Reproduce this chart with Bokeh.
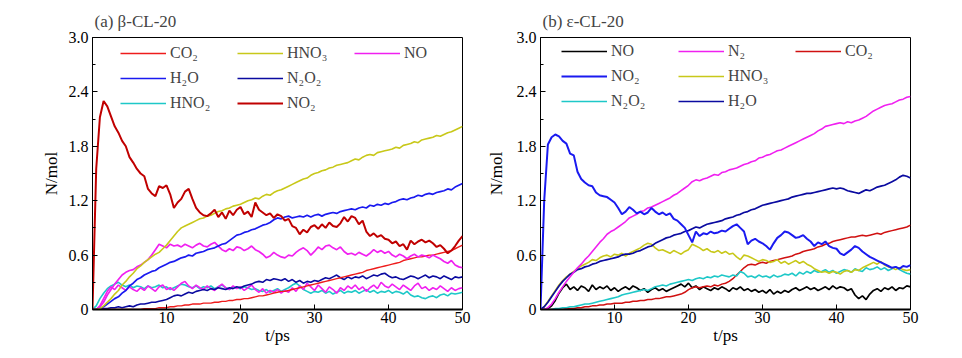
from bokeh.plotting import figure
from bokeh.models import Legend, LegendItem, FixedTicker
from bokeh.layouts import row
from bokeh.embed import file_html
from bokeh.resources import INLINE

# ---------------- data ----------------
T = [0.0, 0.5, 1.0, 1.5, 2.0, 2.5, 3.0, 3.5, 4.0, 4.5,
     5.0, 5.5, 6.0, 6.5, 7.0, 7.5, 8.0, 8.5, 9.0, 9.5,
     10.0, 10.5, 11.0, 11.5, 12.0, 12.5, 13.0, 13.5, 14.0, 14.5,
     15.0, 15.5, 16.0, 16.5, 17.0, 17.5, 18.0, 18.5, 19.0, 19.5,
     20.0, 20.5, 21.0, 21.5, 22.0, 22.5, 23.0, 23.5, 24.0, 24.5,
     25.0, 25.5, 26.0, 26.5, 27.0, 27.5, 28.0, 28.5, 29.0, 29.5,
     30.0, 30.5, 31.0, 31.5, 32.0, 32.5, 33.0, 33.5, 34.0, 34.5,
     35.0, 35.5, 36.0, 36.5, 37.0, 37.5, 38.0, 38.5, 39.0, 39.5,
     40.0, 40.5, 41.0, 41.5, 42.0, 42.5, 43.0, 43.5, 44.0, 44.5,
     45.0, 45.5, 46.0, 46.5, 47.0, 47.5, 48.0, 48.5, 49.0, 49.5,
     50.0]

# (a) beta-CL-20
A_NO2 = [0, 1.55, 2.12, 2.30, 2.24, 2.13, 2.02, 1.95, 1.86, 1.80,
         1.68, 1.62, 1.55, 1.50, 1.47, 1.33, 1.28, 1.25, 1.36, 1.34,
         1.37, 1.27, 1.12, 1.18, 1.22, 1.30, 1.33, 1.22, 1.12, 1.07,
         1.04, 1.03, 1.06, 1.10, 1.02, 1.07, 1.00, 1.09, 1.04, 1.10,
         1.13, 1.05, 1.08, 1.02, 1.18, 1.10, 1.07, 1.04, 1.06, 1.01,
         1.05, 1.03, 0.98, 1.00, 0.92, 0.90, 0.83, 0.88, 0.85, 0.91,
         0.93, 0.89, 0.94, 0.90, 0.96, 0.92, 0.91, 0.95, 1.02, 0.97,
         1.03, 1.01, 0.94, 0.98, 0.86, 0.81, 0.84, 0.80, 0.82, 0.78,
         0.77, 0.73, 0.75, 0.70, 0.72, 0.66, 0.76, 0.72, 0.75, 0.77,
         0.74, 0.76, 0.73, 0.69, 0.71, 0.67, 0.62, 0.65, 0.70, 0.76,
         0.81]
A_HNO3 = [0, 0, 0.01, 0.04, 0.08, 0.12, 0.17, 0.21, 0.27, 0.31,
          0.36, 0.40, 0.45, 0.48, 0.52, 0.55, 0.58, 0.61, 0.63, 0.67,
          0.71, 0.76, 0.81, 0.86, 0.90, 0.92, 0.94, 0.96, 0.98, 1.00,
          1.01, 1.03, 1.04, 1.06, 1.08, 1.09, 1.11, 1.12, 1.14, 1.15,
          1.16, 1.18, 1.20, 1.21, 1.23, 1.22, 1.25, 1.27, 1.26, 1.29,
          1.31, 1.32, 1.34, 1.36, 1.38, 1.40, 1.42, 1.44, 1.45, 1.48,
          1.50, 1.51, 1.53, 1.54, 1.56, 1.57, 1.59, 1.60, 1.61, 1.62,
          1.64, 1.66, 1.65, 1.68, 1.70, 1.71, 1.70, 1.73, 1.74, 1.75,
          1.76, 1.77, 1.79, 1.78, 1.81, 1.82, 1.83, 1.85, 1.84, 1.87,
          1.88, 1.89, 1.90, 1.92, 1.91, 1.93, 1.95, 1.96, 1.98, 2.00,
          2.02]
A_H2O = [0, 0, 0.01, 0.03, 0.06, 0.09, 0.12, 0.14, 0.18, 0.21,
         0.26, 0.29, 0.33, 0.35, 0.38, 0.40, 0.42, 0.43, 0.46, 0.48,
         0.50, 0.52, 0.53, 0.55, 0.57, 0.58, 0.60, 0.59, 0.62, 0.63,
         0.64, 0.66, 0.67, 0.68, 0.70, 0.72, 0.73, 0.76, 0.79, 0.82,
         0.83, 0.85, 0.86, 0.88, 0.89, 0.91, 0.93, 0.94, 0.96, 0.99,
         1.01, 1.00, 1.02, 1.03, 1.01, 1.02, 1.03, 1.02, 1.04, 1.02,
         1.04, 1.05, 1.03, 1.05, 1.06, 1.07, 1.06, 1.08, 1.09, 1.10,
         1.11, 1.10, 1.12, 1.13, 1.12, 1.15, 1.14, 1.16, 1.15, 1.17,
         1.16, 1.18, 1.19, 1.21, 1.22, 1.21, 1.23, 1.24, 1.26, 1.25,
         1.27, 1.28, 1.27, 1.29, 1.30, 1.31, 1.33, 1.32, 1.35, 1.37,
         1.39]
A_NO = [0, 0, 0.03, 0.08, 0.16, 0.22, 0.28, 0.33, 0.38, 0.41,
        0.43, 0.44, 0.47, 0.49, 0.52, 0.55, 0.60, 0.66, 0.72, 0.70,
        0.68, 0.72, 0.70, 0.71, 0.69, 0.72, 0.70, 0.68, 0.71, 0.73,
        0.70, 0.69, 0.72, 0.74, 0.70, 0.66, 0.64, 0.67, 0.65, 0.69,
        0.68, 0.65, 0.67, 0.70, 0.66, 0.64, 0.61, 0.57, 0.59, 0.63,
        0.60, 0.58, 0.57, 0.60, 0.59, 0.63, 0.66, 0.68, 0.65, 0.60,
        0.64, 0.69, 0.66, 0.70, 0.71, 0.68, 0.66, 0.69, 0.64, 0.61,
        0.62, 0.60, 0.63, 0.61, 0.59, 0.62, 0.66, 0.63, 0.65, 0.62,
        0.64, 0.60, 0.58, 0.61, 0.59, 0.56, 0.59, 0.61, 0.58, 0.60,
        0.59, 0.57, 0.60, 0.58, 0.56, 0.53, 0.51, 0.54, 0.49, 0.47,
        0.46]
A_N2O2 = [0, 0, 0, 0.01, 0.01, 0.02, 0.02, 0.03, 0.02, 0.03,
          0.04, 0.03, 0.05, 0.06, 0.06, 0.07, 0.08, 0.08, 0.09, 0.10,
          0.11, 0.13, 0.15, 0.16, 0.15, 0.17, 0.19, 0.18, 0.20, 0.21,
          0.22, 0.21, 0.23, 0.22, 0.24, 0.23, 0.22, 0.24, 0.23, 0.25,
          0.24, 0.26, 0.27, 0.28, 0.30, 0.31, 0.30, 0.33, 0.32, 0.34,
          0.33, 0.32, 0.34, 0.31, 0.33, 0.30, 0.32, 0.29, 0.31, 0.30,
          0.32, 0.31, 0.33, 0.35, 0.34, 0.36, 0.38, 0.35, 0.33, 0.36,
          0.34, 0.36, 0.35, 0.37, 0.34, 0.36, 0.38, 0.37, 0.39, 0.40,
          0.37, 0.35, 0.36, 0.34, 0.33, 0.35, 0.37, 0.36, 0.34, 0.36,
          0.38, 0.35, 0.37, 0.36, 0.34, 0.37, 0.35, 0.33, 0.36, 0.35,
          0.36]
A_CO2 = [0, 0, 0, 0, 0, 0, 0, 0, 0, 0,
         0, 0, 0, 0, 0.01, 0.01, 0.01, 0.01, 0.02, 0.02,
         0.02, 0.03, 0.03, 0.04, 0.04, 0.05, 0.05, 0.06, 0.06, 0.06,
         0.07, 0.07, 0.07, 0.08, 0.08, 0.09, 0.09, 0.10, 0.10, 0.11,
         0.11, 0.12, 0.12, 0.13, 0.14, 0.15, 0.15, 0.16, 0.17, 0.18,
         0.19, 0.20, 0.20, 0.21, 0.22, 0.23, 0.24, 0.25, 0.26, 0.27,
         0.28, 0.29, 0.30, 0.31, 0.32, 0.33, 0.34, 0.35, 0.36, 0.37,
         0.38, 0.39, 0.40, 0.41, 0.43, 0.44, 0.45, 0.46, 0.47, 0.48,
         0.49, 0.50, 0.51, 0.52, 0.54, 0.55, 0.56, 0.57, 0.58, 0.58,
         0.59, 0.60, 0.60, 0.61, 0.62, 0.63, 0.64, 0.65, 0.67, 0.69,
         0.71]
A_HNO2 = [0, 0.04, 0.12, 0.18, 0.23, 0.26, 0.28, 0.30, 0.27, 0.25,
          0.27, 0.24, 0.26, 0.25, 0.23, 0.26, 0.24, 0.25, 0.27, 0.24,
          0.25, 0.22, 0.24, 0.26, 0.28, 0.27, 0.25, 0.24, 0.26, 0.23,
          0.25, 0.24, 0.26, 0.23, 0.25, 0.27, 0.24, 0.22, 0.25, 0.24,
          0.23, 0.25, 0.24, 0.22, 0.23, 0.21, 0.20, 0.22, 0.19, 0.21,
          0.23, 0.20, 0.22, 0.24, 0.27, 0.29, 0.26, 0.22, 0.20, 0.18,
          0.20, 0.19, 0.21, 0.18, 0.20, 0.17, 0.19, 0.21, 0.18, 0.20,
          0.19, 0.21, 0.18, 0.20, 0.22, 0.19, 0.21, 0.18, 0.20, 0.19,
          0.21, 0.18, 0.20, 0.19, 0.17, 0.20, 0.16, 0.14, 0.15, 0.13,
          0.12, 0.14, 0.15, 0.13, 0.16, 0.17, 0.15, 0.18, 0.17, 0.18,
          0.19]
A_N2 = [0, 0, 0.04, 0.12, 0.20, 0.25, 0.22, 0.27, 0.24, 0.21,
        0.25, 0.22, 0.20, 0.24, 0.21, 0.26, 0.23, 0.20, 0.25, 0.27,
        0.22, 0.24, 0.21, 0.25, 0.29, 0.31, 0.26, 0.23, 0.27, 0.24,
        0.22, 0.26, 0.23, 0.21, 0.25, 0.28, 0.24, 0.22, 0.26, 0.23,
        0.25, 0.21, 0.24, 0.27, 0.22, 0.19, 0.23, 0.18, 0.21, 0.19,
        0.22, 0.18, 0.21, 0.19, 0.24, 0.20, 0.26, 0.22, 0.29, 0.25,
        0.21, 0.27, 0.23, 0.19, 0.25, 0.22, 0.18, 0.24, 0.21, 0.26,
        0.23, 0.27, 0.22, 0.25, 0.20, 0.24, 0.27, 0.23, 0.30, 0.26,
        0.24, 0.28, 0.25, 0.22, 0.27, 0.24, 0.21, 0.26, 0.29, 0.23,
        0.25, 0.21, 0.24, 0.22, 0.26, 0.23, 0.20, 0.24, 0.21, 0.23,
        0.24]

# (b) epsilon-CL-20
B_NO2 = [0, 1.20, 1.82, 1.90, 1.93, 1.91, 1.86, 1.83, 1.72, 1.70,
         1.52, 1.44, 1.40, 1.37, 1.36, 1.29, 1.26, 1.25, 1.24, 1.21,
         1.18, 1.12, 1.05, 1.08, 1.13, 1.10, 1.06, 1.08, 1.05, 1.07,
         1.12, 1.08, 1.05, 1.07, 1.04, 1.06, 1.00, 0.98, 0.94, 0.90,
         0.82, 0.74, 0.86, 0.81, 0.84, 0.83, 0.86, 0.84, 0.85, 0.87,
         0.86, 0.89, 0.92, 0.94, 0.90, 0.86, 0.72, 0.76, 0.78, 0.75,
         0.73, 0.70, 0.66, 0.73, 0.79, 0.82, 0.86, 0.85, 0.82, 0.79,
         0.80, 0.82, 0.78, 0.75, 0.70, 0.74, 0.72, 0.75, 0.70, 0.68,
         0.67, 0.62, 0.60, 0.63, 0.66, 0.70, 0.68, 0.64, 0.61, 0.58,
         0.56, 0.54, 0.52, 0.50, 0.48, 0.46, 0.47, 0.45, 0.48, 0.47,
         0.49]
B_N2 = [0, 0, 0.02, 0.06, 0.12, 0.19, 0.25, 0.31, 0.36, 0.41,
        0.46, 0.50, 0.55, 0.59, 0.64, 0.69, 0.74, 0.78, 0.83, 0.86,
        0.88, 0.91, 0.94, 0.97, 1.01, 1.03, 1.05, 1.08, 1.09, 1.12,
        1.13, 1.15, 1.17, 1.19, 1.21, 1.23, 1.26, 1.28, 1.31, 1.34,
        1.37, 1.41, 1.43, 1.42, 1.44, 1.45, 1.47, 1.49, 1.48, 1.51,
        1.52, 1.54, 1.55, 1.56, 1.58, 1.60, 1.61, 1.63, 1.64, 1.67,
        1.68, 1.70, 1.71, 1.73, 1.75, 1.76, 1.78, 1.80, 1.82, 1.84,
        1.86, 1.88, 1.90, 1.92, 1.94, 1.97, 1.99, 2.02, 2.03, 2.04,
        2.05, 2.06, 2.05, 2.07, 2.06, 2.08, 2.09, 2.11, 2.13, 2.16,
        2.19, 2.21, 2.23, 2.25, 2.26, 2.27, 2.29, 2.31, 2.32, 2.34,
        2.35]
B_CO2 = [0, 0, 0, 0, 0, 0, 0, 0.01, 0.01, 0.01,
         0.02, 0.02, 0.03, 0.03, 0.04, 0.04, 0.05, 0.05, 0.06, 0.06,
         0.07, 0.07, 0.07, 0.08, 0.08, 0.09, 0.09, 0.10, 0.10, 0.11,
         0.11, 0.12, 0.12, 0.13, 0.14, 0.14, 0.15, 0.16, 0.17, 0.19,
         0.22, 0.24, 0.25, 0.24, 0.25, 0.26, 0.25, 0.27, 0.26, 0.28,
         0.29, 0.31, 0.34, 0.38, 0.42, 0.46, 0.49, 0.50, 0.49, 0.51,
         0.52, 0.51, 0.53, 0.54, 0.55, 0.56, 0.57, 0.58, 0.59, 0.61,
         0.62, 0.64, 0.65, 0.66, 0.67, 0.69, 0.70, 0.72, 0.73, 0.75,
         0.76, 0.77, 0.78, 0.79, 0.80, 0.80, 0.81, 0.82, 0.81, 0.82,
         0.83, 0.84, 0.83, 0.85, 0.86, 0.87, 0.88, 0.89, 0.90, 0.91,
         0.93]
B_H2O = [0, 0.03, 0.08, 0.14, 0.20, 0.26, 0.31, 0.35, 0.39, 0.41,
         0.44, 0.45, 0.47, 0.48, 0.50, 0.51, 0.53, 0.54, 0.55, 0.56,
         0.57, 0.58, 0.60, 0.61, 0.61, 0.62, 0.64, 0.65, 0.67, 0.69,
         0.70, 0.73, 0.75, 0.77, 0.79, 0.80, 0.82, 0.83, 0.84, 0.86,
         0.87, 0.89, 0.91, 0.90, 0.92, 0.94, 0.95, 0.96, 0.97, 0.98,
         1.00, 1.01, 1.02, 1.04, 1.05, 1.07, 1.08, 1.10, 1.11, 1.13,
         1.15, 1.16, 1.17, 1.18, 1.19, 1.20, 1.21, 1.22, 1.24, 1.25,
         1.26, 1.27, 1.28, 1.28, 1.29, 1.30, 1.31, 1.32, 1.33, 1.34,
         1.33, 1.34, 1.33, 1.31, 1.30, 1.29, 1.28, 1.30, 1.32, 1.31,
         1.33, 1.35, 1.36, 1.37, 1.39, 1.41, 1.43, 1.46, 1.48, 1.47,
         1.45]
B_HNO3 = [0, 0.03, 0.09, 0.15, 0.21, 0.27, 0.32, 0.36, 0.39, 0.42,
          0.45, 0.48, 0.50, 0.52, 0.55, 0.54, 0.57, 0.59, 0.60, 0.58,
          0.61, 0.60, 0.62, 0.59, 0.62, 0.64, 0.66, 0.68, 0.71, 0.73,
          0.72, 0.68, 0.65, 0.66, 0.64, 0.62, 0.65, 0.63, 0.61, 0.64,
          0.66, 0.72, 0.70, 0.68, 0.65, 0.67, 0.64, 0.63, 0.65, 0.62,
          0.64, 0.61, 0.62, 0.58, 0.55, 0.60, 0.59, 0.57, 0.55, 0.53,
          0.55, 0.54, 0.52, 0.53, 0.55, 0.51, 0.53, 0.50, 0.52, 0.54,
          0.51, 0.53, 0.50, 0.48, 0.45, 0.43, 0.41, 0.42, 0.40, 0.42,
          0.41, 0.39, 0.42, 0.43, 0.41, 0.44, 0.43, 0.46, 0.48, 0.50,
          0.52, 0.50, 0.53, 0.49, 0.47, 0.46, 0.44, 0.46, 0.44, 0.43,
          0.44]
B_N2O2 = [0, 0, 0, 0, 0.01, 0.01, 0.02, 0.02, 0.03, 0.03,
          0.04, 0.05, 0.06, 0.06, 0.07, 0.08, 0.09, 0.10, 0.11, 0.12,
          0.13, 0.14, 0.16, 0.17, 0.18, 0.19, 0.20, 0.21, 0.22, 0.21,
          0.23, 0.25, 0.26, 0.27, 0.26, 0.28, 0.29, 0.30, 0.31, 0.32,
          0.33, 0.32, 0.34, 0.35, 0.34, 0.36, 0.35, 0.37, 0.36, 0.38,
          0.37, 0.36, 0.38, 0.37, 0.42, 0.40, 0.36, 0.37, 0.35, 0.38,
          0.36, 0.37, 0.35, 0.38, 0.36, 0.37, 0.39, 0.38, 0.40, 0.37,
          0.41, 0.39, 0.42, 0.40, 0.43, 0.41, 0.42, 0.44, 0.41, 0.43,
          0.40, 0.42, 0.44, 0.43, 0.41, 0.45, 0.43, 0.42, 0.46, 0.44,
          0.45, 0.47, 0.44, 0.46, 0.43, 0.45, 0.47, 0.44, 0.42, 0.40,
          0.39]
B_NO = [0, 0, 0.01, 0.04, 0.10, 0.18, 0.24, 0.28, 0.22, 0.25,
        0.21, 0.26, 0.24, 0.20, 0.27, 0.22, 0.25, 0.23, 0.26, 0.21,
        0.24, 0.20, 0.23, 0.25, 0.22, 0.26, 0.24, 0.21, 0.23, 0.19,
        0.22, 0.24, 0.21, 0.23, 0.20, 0.22, 0.24, 0.26, 0.28, 0.25,
        0.29, 0.24, 0.26, 0.22, 0.25, 0.23, 0.21, 0.24, 0.22, 0.25,
        0.23, 0.20, 0.24, 0.22, 0.25, 0.21, 0.23, 0.20, 0.22, 0.19,
        0.21, 0.18, 0.22, 0.17, 0.20, 0.18, 0.21, 0.19, 0.22, 0.24,
        0.21, 0.23, 0.25, 0.22, 0.24, 0.21, 0.23, 0.25, 0.22, 0.26,
        0.23, 0.25, 0.24, 0.21, 0.23, 0.16, 0.12, 0.15, 0.11, 0.17,
        0.21, 0.23, 0.20, 0.24, 0.22, 0.25, 0.21, 0.24, 0.23, 0.26,
        0.25]

X_TICKS = [10, 20, 30, 40, 50]
Y_TICKS = [0, 0.6, 1.2, 1.8, 2.4, 3.0]
Y_TICK_LABELS = ["0", "0.6", "1.2", "1.8", "2.4", "3.0"]
Y_MINOR = [0.3, 0.9, 1.5, 2.1, 2.7]
TITLE_A = "(a) \u03b2-CL-20"
TITLE_B = "(b) \u03b5-CL-20"
X_LABEL = "t/ps"
Y_LABEL = "N/mol"

# series: (label, values, color, width, in_legend) ; legend is column-major, 3 rows
SERIES_A = [
    ("HNO\u2082", A_HNO2, "#1ec8c8", 1.6, True),
    ("", A_N2, "#f020f0", 1.6, False),
    ("N\u2082O\u2082", A_N2O2, "#0a0aa0", 1.6, True),
    ("CO\u2082", A_CO2, "#ee1c1c", 1.4, True),
    ("NO", A_NO, "#f020f0", 1.7, True),
    ("H\u2082O", A_H2O, "#1a1af0", 1.7, True),
    ("HNO\u2083", A_HNO3, "#c8c81a", 1.6, True),
    ("NO\u2082", A_NO2, "#c00000", 2.0, True),
]
LEGEND_ORDER_A = ["CO\u2082", "H\u2082O", "HNO\u2082", "HNO\u2083", "N\u2082O\u2082", "NO\u2082", "NO"]

SERIES_B = [
    ("NO", B_NO, "#000000", 1.7, True),
    ("CO\u2082", B_CO2, "#d01010", 1.5, True),
    ("N\u2082O\u2082", B_N2O2, "#1ec8c8", 1.6, True),
    ("HNO\u2083", B_HNO3, "#c8c81a", 1.6, True),
    ("H\u2082O", B_H2O, "#0a0aa0", 1.7, True),
    ("N\u2082", B_N2, "#f020f0", 1.6, True),
    ("NO\u2082", B_NO2, "#1a1af0", 2.0, True),
]
LEGEND_ORDER_B = ["NO", "NO\u2082", "N\u2082O\u2082", "N\u2082", "HNO\u2083", "H\u2082O", "CO\u2082"]

FONT = "Liberation Serif"

# ---------------- layout (pixels) ----------------
FRAME_W, FRAME_H = 370, 272
FIG_H = 358
BORDER_TOP = 37


def make_panel(series, order, title, border_left, fig_w, legend_xy, ylabel_standoff):
    border_right = fig_w - border_left - FRAME_W
    p = figure(width=fig_w, height=FIG_H, x_range=(0, 50), y_range=(0, 3),
               output_backend="svg", toolbar_location=None,
               min_border_left=border_left, min_border_right=border_right,
               min_border_top=BORDER_TOP,
               min_border_bottom=FIG_H - BORDER_TOP - FRAME_H,
               x_axis_label=X_LABEL, y_axis_label=Y_LABEL)
    p.xgrid.visible = False
    p.ygrid.visible = False
    p.outline_line_color = "black"
    p.outline_line_width = 1
    p.outline_line_alpha = 1
    p.background_fill_color = "white"
    p.border_fill_color = "white"

    p.title.text = title
    p.title.text_font = FONT
    p.title.text_font_size = "17px"
    p.title.text_font_style = "normal"
    p.title.align = "left"
    p.title.offset = 2
    p.title.standoff = 14

    for ax in (p.xaxis[0], p.yaxis[0]):
        ax.major_tick_in = 5
        ax.major_tick_out = 0
        ax.minor_tick_in = 3
        ax.minor_tick_out = 0
        ax.axis_line_color = "black"
        ax.major_tick_line_color = "black"
        ax.minor_tick_line_color = "black"
        ax.major_label_text_font = FONT
        ax.major_label_text_font_size = "16px"
        ax.major_label_text_color = "black"
        ax.axis_label_text_font = FONT
        ax.axis_label_text_font_size = "17px"
        ax.axis_label_text_font_style = "normal"
        ax.axis_label_text_color = "black"
    p.xaxis[0].ticker = FixedTicker(ticks=X_TICKS)
    p.xaxis[0].axis_line_width = 2
    p.xaxis[0].major_label_standoff = 2
    p.xaxis[0].axis_label_standoff = 0
    p.yaxis[0].ticker = FixedTicker(ticks=Y_TICKS, minor_ticks=Y_MINOR)
    p.yaxis[0].major_label_overrides = {t: s for t, s in zip(Y_TICKS, Y_TICK_LABELS)}
    p.yaxis[0].major_label_standoff = 4
    p.yaxis[0].axis_label_standoff = ylabel_standoff

    renderers = {}
    for label, vals, color, w, in_leg in series:
        r = p.line(T, vals, line_color=color, line_width=w)
        if in_leg:
            renderers[label] = r

    items = [LegendItem(label=lab, renderers=[renderers[lab]]) for lab in order]
    leg = Legend(items=items, location=legend_xy, orientation="vertical", nrows=3,
                 padding=0, margin=0, spacing=5, border_line_alpha=0,
                 background_fill_alpha=0, glyph_width=46, glyph_height=20,
                 label_height=20, label_width=62, label_standoff=4,
                 label_text_font=FONT, label_text_font_size="16px",
                 label_text_baseline="middle")
    p.add_layout(leg)
    return p


pa = make_panel(SERIES_A, LEGEND_ORDER_A, TITLE_A, 92, 478, (28, 196), 5)
pb = make_panel(SERIES_B, LEGEND_ORDER_B, TITLE_B, 62, 484, (21, 198), 8)

layout = row(pa, pb, spacing=0)
open("out.html", "w").write(file_html(layout, INLINE))
